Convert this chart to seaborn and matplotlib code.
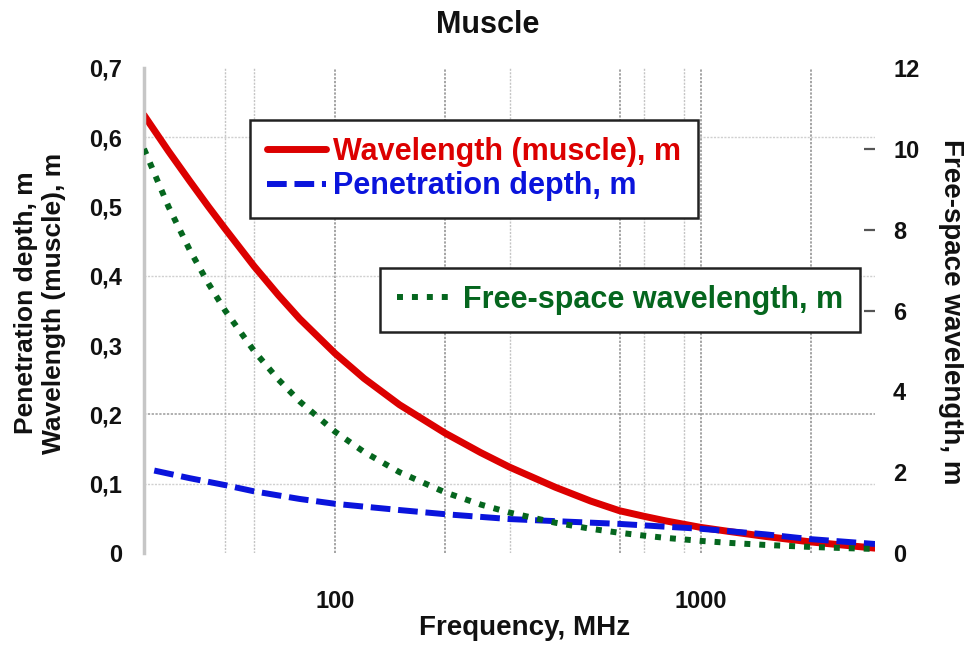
import numpy as np
import pandas as pd
import matplotlib
matplotlib.use("Agg")
import matplotlib.pyplot as plt
from matplotlib.ticker import FixedLocator, FixedFormatter, NullLocator
import seaborn as sns

# ---------------- data ----------------
freq_mhz = [30, 35, 40, 45, 50, 60, 70, 80, 100, 120, 150, 200, 250, 300,
            400, 500, 600, 700, 800, 1000, 1200, 1500, 2000, 2500, 3000]
wavelength_muscle = [0.632, 0.580, 0.537, 0.500, 0.468, 0.414, 0.372, 0.338,
                     0.288, 0.252, 0.214, 0.173, 0.145, 0.124, 0.095, 0.075,
                     0.061, 0.053, 0.0465, 0.037, 0.031, 0.024, 0.016, 0.011,
                     0.007]
free_space_wavelength = [10.0, 8.57, 7.5, 6.67, 6.0, 5.0, 4.29, 3.75, 3.0, 2.5,
                         2.0, 1.5, 1.2, 1.0, 0.75, 0.6, 0.5, 0.43, 0.375, 0.3,
                         0.25, 0.2, 0.15, 0.12, 0.1]
pen_freq_mhz = [32, 40, 50, 60, 80, 100, 150, 200, 300, 400, 600, 800, 1000,
                1500, 2000, 3000]
penetration_depth = [0.119, 0.108, 0.098, 0.089, 0.078, 0.071, 0.062, 0.056,
                     0.049, 0.046, 0.042, 0.038, 0.035, 0.027, 0.020, 0.013]

x_tick_values = [100, 1000]
x_tick_labels = ["100", "1000"]
left_ticks = [0, 0.1, 0.2, 0.3, 0.4, 0.5, 0.6, 0.7]
left_tick_labels = ["0", "0,1", "0,2", "0,3", "0,4", "0,5", "0,6", "0,7"]
right_ticks = [0, 2, 4, 6, 8, 10, 12]
right_tick_labels = ["0", "2", "4", "6", "8", "10", "12"]
right_marks = [6, 8, 10]

grid_dark_freq = [100, 200, 600, 1000, 2000]
grid_light_freq = [50, 60, 300, 700, 900]
grid_dark_y = [0.2]
grid_light_y = [0.1, 0.4, 0.6]

label_red = "Wavelength (muscle), m"
label_blue = "Penetration depth, m"
label_green = "Free-space wavelength, m"

RED = "#dc0000"
BLUE = "#0a14dc"
GREEN = "#05661e"

df_red = pd.DataFrame({"freq": freq_mhz, "val": wavelength_muscle})
df_blue = pd.DataFrame({"freq": pen_freq_mhz, "val": penetration_depth})
df_green = pd.DataFrame({"freq": freq_mhz, "val": free_space_wavelength})

# ---------------- style ----------------
sns.set_theme(style="white")
plt.rcParams["font.family"] = ["Liberation Sans", "DejaVu Sans"]
plt.rcParams["font.weight"] = "bold"
plt.rcParams["text.color"] = "#111111"
plt.rcParams["xtick.color"] = "#111111"
plt.rcParams["ytick.color"] = "#111111"

W, H = 964, 646
fig = plt.figure(figsize=(W / 100, H / 100), dpi=100)
ax = fig.add_axes([144 / W, 1 - 553 / H, (875 - 144) / W, (553 - 68) / H])
ax.set_xscale("log")
ax2 = ax.twinx()

# grid
for f in grid_light_freq:
    ax.axvline(f, color="#c4c4c4", lw=1.0, ls=(0, (1.5, 1)), zorder=0)
for f in grid_dark_freq:
    ax.axvline(f, color="#8c8c8c", lw=1.1, ls=(0, (1.5, 1)), zorder=0)
for yv in grid_light_y:
    ax.axhline(yv, color="#d0d0d0", lw=1.0, ls=(0, (1.5, 1)), zorder=0)
for yv in grid_dark_y:
    ax.axhline(yv, color="#9a9a9a", lw=1.1, ls=(0, (1.5, 1)), zorder=0)

# lines
sns.lineplot(data=df_red, x="freq", y="val", ax=ax, color=RED,
             linewidth=5.0, legend=False)
h_red = ax.lines[-1]
sns.lineplot(data=df_blue, x="freq", y="val", ax=ax, color=BLUE,
             linewidth=4.3, linestyle=(0, (3.3, 1.3)), legend=False)
h_blue = ax.lines[-1]
sns.lineplot(data=df_green, x="freq", y="val", ax=ax2, color=GREEN,
             linewidth=4.3, linestyle=(0, (1, 1.5)), legend=False)
h_green = ax2.lines[-1]

# axes
ax.set_xlim(30, 3000)
ax.set_ylim(0, 0.7)
ax2.set_ylim(0, 12)
ax.xaxis.set_major_locator(FixedLocator(x_tick_values))
ax.xaxis.set_major_formatter(FixedFormatter(x_tick_labels))
ax.xaxis.set_minor_locator(NullLocator())
ax.yaxis.set_minor_locator(NullLocator())
ax.set_yticks(left_ticks)
ax.set_yticklabels(left_tick_labels)
ax2.set_yticks(right_ticks)
ax2.set_yticklabels(right_tick_labels)
ax2.yaxis.set_minor_locator(FixedLocator(right_marks))
ax2.yaxis.remove_overlapping_locs = False
ax.tick_params(axis="x", length=0, pad=27, labelsize=17)
ax.tick_params(axis="y", length=0, pad=16, labelsize=17)
ax2.tick_params(axis="y", which="major", length=0, pad=13, labelsize=17,
                right=True, left=False, labelright=True, labelleft=False)
ax2.tick_params(axis="y", which="minor", length=8, width=1.6,
                color="#555555", direction="in", right=True, left=False)
ax.set_xlabel("")
ax.set_ylabel("")
ax2.set_ylabel("")
for sp in ax.spines.values():
    sp.set_visible(False)
for sp in ax2.spines.values():
    sp.set_visible(False)
ax.spines["left"].set_visible(True)
ax.spines["left"].set_color("#c6c6c6")
ax.spines["left"].set_linewidth(2.5)
ax.grid(False)
ax2.grid(False)

# texts
fig.text(488 / W, 1 - 25 / H, "Muscle", ha="center", va="center",
         fontsize=22, fontweight="bold")
fig.text(525 / W, 1 - 628 / H, "Frequency, MHz", ha="center", va="center",
         fontsize=20, fontweight="bold")
fig.text(40 / W, 1 - 303 / H, label_blue + "\n" + label_red,
         rotation=90, ha="center", va="center", fontsize=19,
         fontweight="bold", multialignment="center", linespacing=1.2)
fig.text(951 / W, 1 - 312 / H, label_green, rotation=270, ha="center",
         va="center", fontsize=20, fontweight="bold")

# legends
leg1 = fig.legend([h_red, h_blue], [label_red, label_blue], loc="upper left",
                  bbox_to_anchor=(250 / W, 1 - 120 / H), borderaxespad=0,
                  handlelength=1.95, handletextpad=0.23,
                  borderpad=0.55, labelspacing=0.15, fancybox=False,
                  edgecolor="#222222", framealpha=1,
                  prop={"weight": "bold", "size": 22})
leg1.get_frame().set_linewidth(1.8)
for t, c in zip(leg1.get_texts(), [RED, BLUE]):
    t.set_color(c)

leg2 = fig.legend([h_green], [label_green], loc="upper left",
                  bbox_to_anchor=(380 / W, 1 - 268 / H), borderaxespad=0,
                  handlelength=1.95, handletextpad=0.23,
                  borderpad=0.55, fancybox=False,
                  edgecolor="#222222", framealpha=1,
                  prop={"weight": "bold", "size": 22})
leg2.get_frame().set_linewidth(1.8)
for t in leg2.get_texts():
    t.set_color(GREEN)

fig.savefig("out.png", dpi=100)
